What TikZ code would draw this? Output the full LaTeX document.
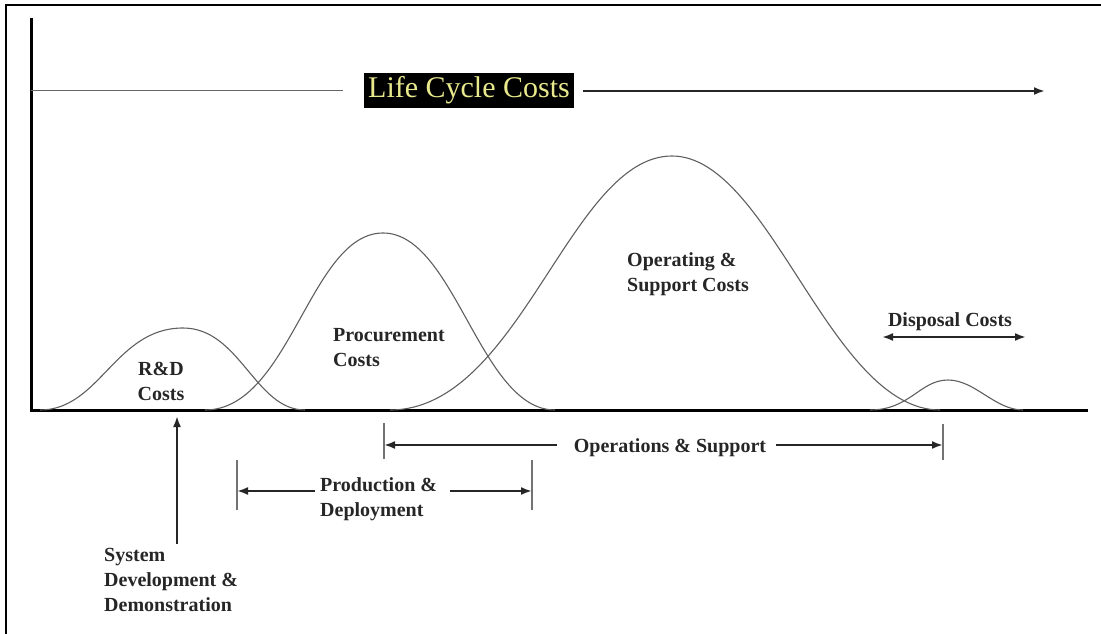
\documentclass[tikz,border=0pt]{standalone}
\usepackage{fontspec}
\setmainfont{Liberation Serif}
\usetikzlibrary{arrows.meta,positioning,calc}
\definecolor{lccYellow}{RGB}{232,232,140}
\definecolor{curveGray}{RGB}{95,95,95}

\begin{document}
\begin{tikzpicture}[
    x=1pt, y=-1pt,
    font=\fontsize{20}{25}\selectfont\bfseries,
    frameLine/.style={line width=1.5pt, draw=black},
    axisLine/.style={line width=3pt, draw=black},
    costCurve/.style={line width=1.1pt, draw=curveGray},
    phaseArrow/.style={
        -{Latex[length=11pt, width=8pt]}, line width=2pt, draw=black!85
    },
    phaseTick/.style={line width=1.4pt, draw=black!55},
    costLabel/.style={inner sep=0pt, align=left, text=black!85},
    titleBox/.style={
        fill=black, text=lccYellow, inner xsep=4pt, minimum height=35pt,
        font=\fontsize{30}{32}\selectfont
    }
]
\useasboundingbox (0,0) rectangle (1101,634);

% Frame (only top and left edges show)
\draw[frameLine] (6,634) -- (6,5) -- (1101,5);

% Axes
\coordinate (axisTop) at (31,18);
\coordinate (origin) at (31,410);
\coordinate (axisEnd) at (1088,410);
\draw[axisLine] (axisTop) -- (origin) -- (axisEnd);

% Title: Life Cycle Costs
\node[titleBox] (lcc) at (469,90.5) {Life Cycle Costs};
\coordinate (lccStart) at (31,91);
\coordinate (lccEnd) at (1045,91);
\draw[line width=1pt, draw=black!60, shorten >=21pt] (lccStart) -- (lcc.west |- lccStart);
\draw[phaseArrow, shorten <=9pt] (lcc.east |- lccEnd) -- (lccEnd);

% Cost curves
\draw[costCurve] (40,410) .. controls (100,410) and (115,328) .. (183,328)
    .. controls (240,328) and (255,410) .. (305,410);
\draw[costCurve] (205,410) .. controls (290,410) and (310,233) .. (383,233)
    .. controls (455,233) and (480,410) .. (555,410);
\draw[costCurve] (390,410) .. controls (520,410) and (570,156) .. (672,156)
    .. controls (770,156) and (830,410) .. (940,410);
\draw[costCurve] (870,410) .. controls (910,410) and (920,380) .. (948,380)
    .. controls (975,380) and (995,410) .. (1023,410);

% Cost labels
\node[costLabel, align=center] (rdLbl) at (161,381) {R\&D\\Costs};
\node[costLabel, anchor=west] (procLbl) at (333,348) {Procurement\\Costs};
\node[costLabel, anchor=west] (opLbl) at (627,274.5) {Operating \&\\Support Costs};
\node[costLabel] (dispLbl) at (950,322) {Disposal Costs};

% Disposal span
\coordinate (dispL) at (882,337);
\coordinate (dispR) at (1026,337);
\draw[phaseArrow, {Latex[length=11pt, width=8pt]}-{Latex[length=11pt, width=8pt]}] (dispL) -- (dispR);

% Operations & Support span
\node[costLabel] (opsLbl) at (670,448) {Operations \& Support};
\coordinate (opsL) at (384,445);
\coordinate (opsR) at (943,445);
\draw[phaseTick] ([yshift=22pt]opsL) -- ([yshift=-14pt]opsL);
\draw[phaseTick] ([yshift=21pt]opsR) -- ([yshift=-15pt]opsR);
\draw[phaseArrow, shorten <=17pt] (opsLbl.west |- opsL) -- (opsL);
\draw[phaseArrow, shorten <=10pt] (opsLbl.east |- opsR) -- (opsR);

% Production & Deployment span
\node[costLabel, anchor=west] (prodLbl) at (320,499) {Production \&\\Deployment};
\coordinate (prodL) at (237,491);
\coordinate (prodR) at (532,491);
\draw[phaseTick] ([yshift=31pt]prodL) -- ([yshift=-19pt]prodL);
\draw[phaseTick] ([yshift=31pt]prodR) -- ([yshift=-19pt]prodR);
\draw[phaseArrow, shorten <=5pt] (prodLbl.west |- prodL) -- (prodL);
\draw[phaseArrow, shorten <=13pt] (prodLbl.east |- prodR) -- (prodR);

% System Development & Demonstration
\node[costLabel, anchor=north west] (sddLbl) at (104,548) {System\\Development \&\\Demonstration};
\coordinate (sddTip) at (177,416);
\draw[phaseArrow] (sddTip |- sddLbl.north) ++(0,-4) -- (sddTip);

\end{tikzpicture}
\end{document}
